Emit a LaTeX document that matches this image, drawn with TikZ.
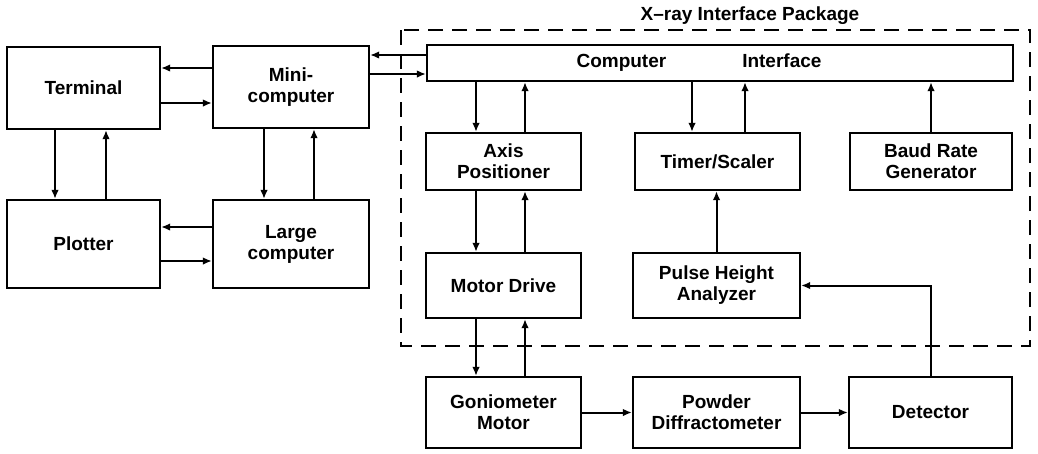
\documentclass[tikz,border=0pt]{standalone}
\usepackage{fontspec}
\setmainfont{Liberation Sans}
\usetikzlibrary{positioning,arrows.meta}

\begin{document}
\begin{tikzpicture}[
		x=1pt,y=-1pt,
		block/.style={draw=black,line width=2.2pt,align=center,inner sep=0pt,
			font=\fontsize{19}{21}\selectfont\bfseries},
		link/.style={-{Latex[length=9pt,width=7.5pt]},line width=2pt},
		package/.style={draw=black,line width=2pt,dash pattern=on 15pt off 9pt},
		label text/.style={font=\fontsize{19}{21}\selectfont\bfseries,inner sep=0pt}
	]
	\useasboundingbox (0,0) rectangle (1038,453);

	% Host side: terminal, plotter and the two computers.
	\node[block,minimum width=153pt,minimum height=82pt] (term) at (83.5,88) {Terminal};
	\node[block,minimum width=156pt,minimum height=82pt] (mini) at (291,87) {Mini-\\computer};
	\node[block,minimum width=153pt,minimum height=88pt] (plot) at (83.5,244) {Plotter};
	\node[block,minimum width=156pt,minimum height=88pt] (large) at (291,244) {Large\\computer};

	% Interface package with its dashed outline.
	\draw[package] (401,30) rectangle (1030,346);
	\node[label text,anchor=base] (pkgtitle) at (750,20) {X--ray Interface Package};
	\node[block,minimum width=586pt,minimum height=36pt,
		label={[label text,xshift=-21pt]center:Computer\hspace{76pt}Interface}]
		(ci) at (720,63) {};
	\node[block,minimum width=155pt,minimum height=57pt] (axis) at (503.5,161.5) {Axis\\Positioner};
	\node[block,minimum width=165pt,minimum height=57pt] (timer) at (717.5,161.5) {Timer/Scaler};
	\node[block,minimum width=162pt,minimum height=57pt] (baud) at (931,161.5) {Baud Rate\\Generator};
	\node[block,minimum width=155pt,minimum height=65pt] (motor) at (503.5,285.5) {Motor Drive};
	\node[block,minimum width=167pt,minimum height=65pt] (pha) at (716.5,285.5) {Pulse Height\\Analyzer};

	% Diffractometer chain below the package.
	\node[block,minimum width=155pt,minimum height=71pt] (gonio) at (503.5,412.5) {Goniometer\\Motor};
	\node[block,minimum width=167pt,minimum height=71pt] (powder) at (716.5,412.5) {Powder\\Diffractometer};
	\node[block,minimum width=163pt,minimum height=71pt] (det) at (930.5,412.5) {Detector};

	% Links between the host machines.
	\draw[link] ([yshift=19pt]mini.west) -- ([yshift=19pt]mini.west -| term.east);
	\draw[link] ([yshift=-15pt]term.east) -- ([yshift=-15pt]term.east -| mini.west);
	\draw[link] ([xshift=-28.5pt]term.south) -- ([xshift=-28.5pt]plot.north);
	\draw[link] ([xshift=22.5pt]plot.north) -- ([xshift=22.5pt]term.south);
	\draw[link] ([xshift=-27pt]mini.south) -- ([xshift=-27pt]large.north);
	\draw[link] ([xshift=23pt]large.north) -- ([xshift=23pt]mini.south);
	\draw[link] ([yshift=17pt]large.west) -- ([yshift=17pt]large.west -| plot.east);
	\draw[link] ([yshift=-17pt]plot.east) -- ([yshift=-17pt]plot.east -| large.west);

	% Mini-computer to interface.
	\draw[link] ([yshift=32pt]mini.east -| ci.west) -- ([yshift=32pt]mini.east);
	\draw[link] ([yshift=13pt]mini.east) -- ([yshift=13pt]mini.east -| ci.west);

	% Inside the package.
	\draw[link] ([xshift=-27.5pt]axis.north |- ci.south) -- ([xshift=-27.5pt]axis.north);
	\draw[link] ([xshift=21.5pt]axis.north) -- ([xshift=21.5pt]axis.north |- ci.south);
	\draw[link] ([xshift=-25.5pt]timer.north |- ci.south) -- ([xshift=-25.5pt]timer.north);
	\draw[link] ([xshift=27.5pt]timer.north) -- ([xshift=27.5pt]timer.north |- ci.south);
	\draw[link] (baud.north) -- (baud.north |- ci.south);
	\draw[link] ([xshift=-27.5pt]axis.south) -- ([xshift=-27.5pt]motor.north);
	\draw[link] ([xshift=21.5pt]motor.north) -- ([xshift=21.5pt]axis.south);
	\draw[link] (pha.north) -- (pha.north |- timer.south);

	% Motor drive, diffractometer and detector.
	\draw[link] ([xshift=-27.5pt]motor.south) -- ([xshift=-27.5pt]gonio.north);
	\draw[link] ([xshift=21.5pt]gonio.north) -- ([xshift=21.5pt]motor.south);
	\draw[link] (gonio.east) -- (powder.west);
	\draw[link] (powder.east) -- (det.west);
	\draw[link] (det.north) |- (pha.east);
\end{tikzpicture}
\end{document}
